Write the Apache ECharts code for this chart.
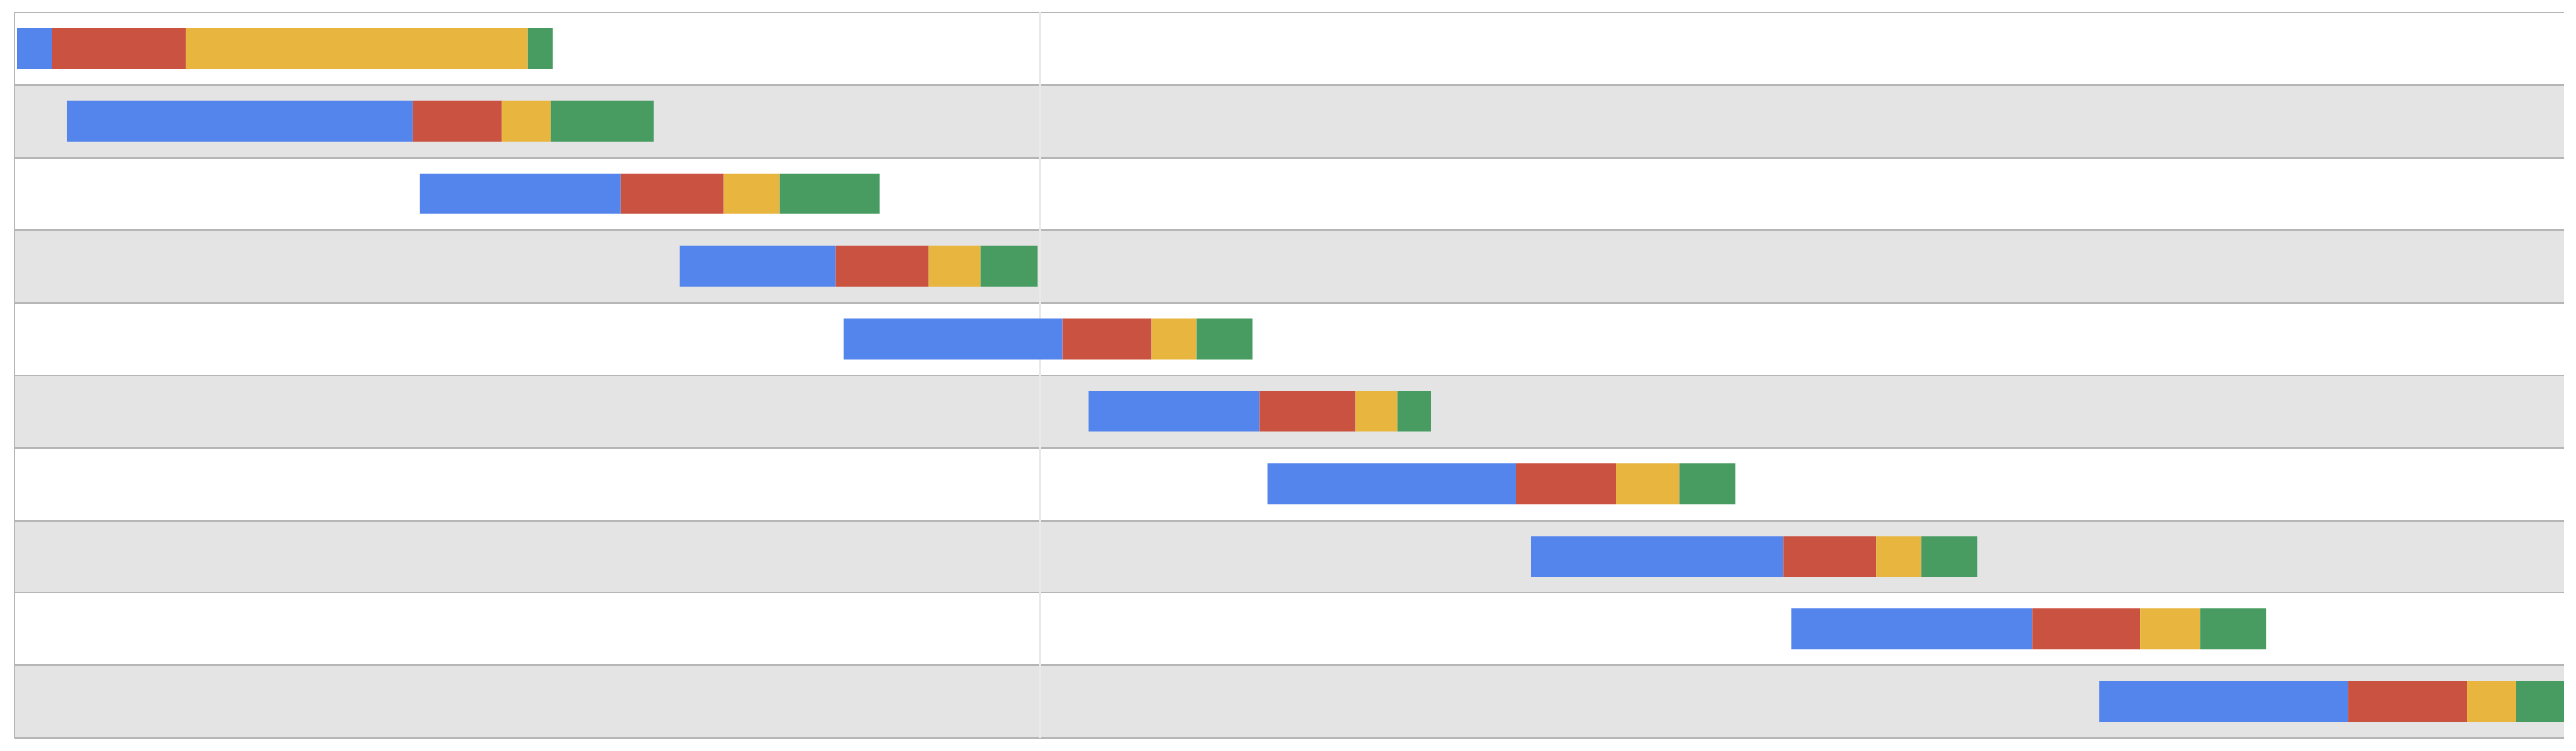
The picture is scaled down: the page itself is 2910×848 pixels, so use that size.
<!DOCTYPE html>
<html>
<head>
<meta charset="utf-8">
<script src="https://cdn.jsdelivr.net/npm/echarts@6/dist/echarts.min.js"></script>
<style>
html,body{margin:0;padding:0;background:#ffffff;}
#chart{width:2910px;height:848px;}
</style>
</head>
<body>
<div id="chart"></div>
<script>
// Rows (top to bottom)
const categories = ['1','2','3','4','5','6','7','8','9','10'];
// Start offset of each row's first segment
const starts = [2, 59, 457, 751, 936, 1213, 1415, 1713, 2007, 2355];
// Segment lengths
const blueVals   = [40, 390, 227, 176, 248, 193, 281, 285, 273, 282];
const redVals    = [151, 101, 117, 105, 100, 109, 113, 105, 122, 134];
const yellowVals = [386, 55, 63, 59, 51, 47, 72, 51, 67, 55];
const greenVals  = [29, 117, 113, 65, 63, 38, 63, 63, 75, 54];
// Axis extent and the single vertical gridline
const axisMin = 0;
const axisMax = 2880;
const gridlineAt = 1158.5;

const chart = echarts.init(document.getElementById('chart'), null, {renderer: 'canvas'});

function seg(name, data, color) {
  return {
    name: name,
    type: 'bar',
    stack: 'total',
    data: data,
    barWidth: 46,
    z: 3,
    itemStyle: {color: color},
    emphasis: {disabled: true},
    silent: true
  };
}

const option = {
  animation: false,
  grid: {
    left: 17, top: 14, right: 14, bottom: 15,
    show: true,
    borderColor: '#9e9e9e',
    borderWidth: 1.5,
    backgroundColor: 'transparent'
  },
  xAxis: {
    type: 'value',
    min: axisMin,
    max: axisMax,
    axisLine: {show: false},
    axisTick: {show: false},
    axisLabel: {show: false},
    splitLine: {show: false}
  },
  yAxis: {
    type: 'category',
    data: categories,
    inverse: true,
    axisLine: {show: false},
    axisTick: {show: false},
    axisLabel: {show: false},
    splitLine: {show: true, lineStyle: {color: '#b6b6b6', width: 2}},
    splitArea: {show: true, areaStyle: {color: ['#ffffff', '#e4e4e4']}}
  },
  series: [
    {
      name: 'base',
      type: 'bar',
      stack: 'total',
      data: starts,
      barWidth: 46,
      z: 1,
      itemStyle: {color: 'transparent'},
      emphasis: {disabled: true},
      silent: true,
      markLine: {
        silent: true,
        z: 1,
        symbol: 'none',
        label: {show: false},
        lineStyle: {color: '#e9e9e9', width: 2, type: 'solid'},
        data: [{xAxis: gridlineAt}]
      }
    },
    seg('blue', blueVals, '#5385EC'),
    seg('red', redVals, '#CA5240'),
    seg('yellow', yellowVals, '#E8B53E'),
    seg('green', greenVals, '#489C61')
  ]
};
chart.setOption(option);
</script>
</body>
</html>
